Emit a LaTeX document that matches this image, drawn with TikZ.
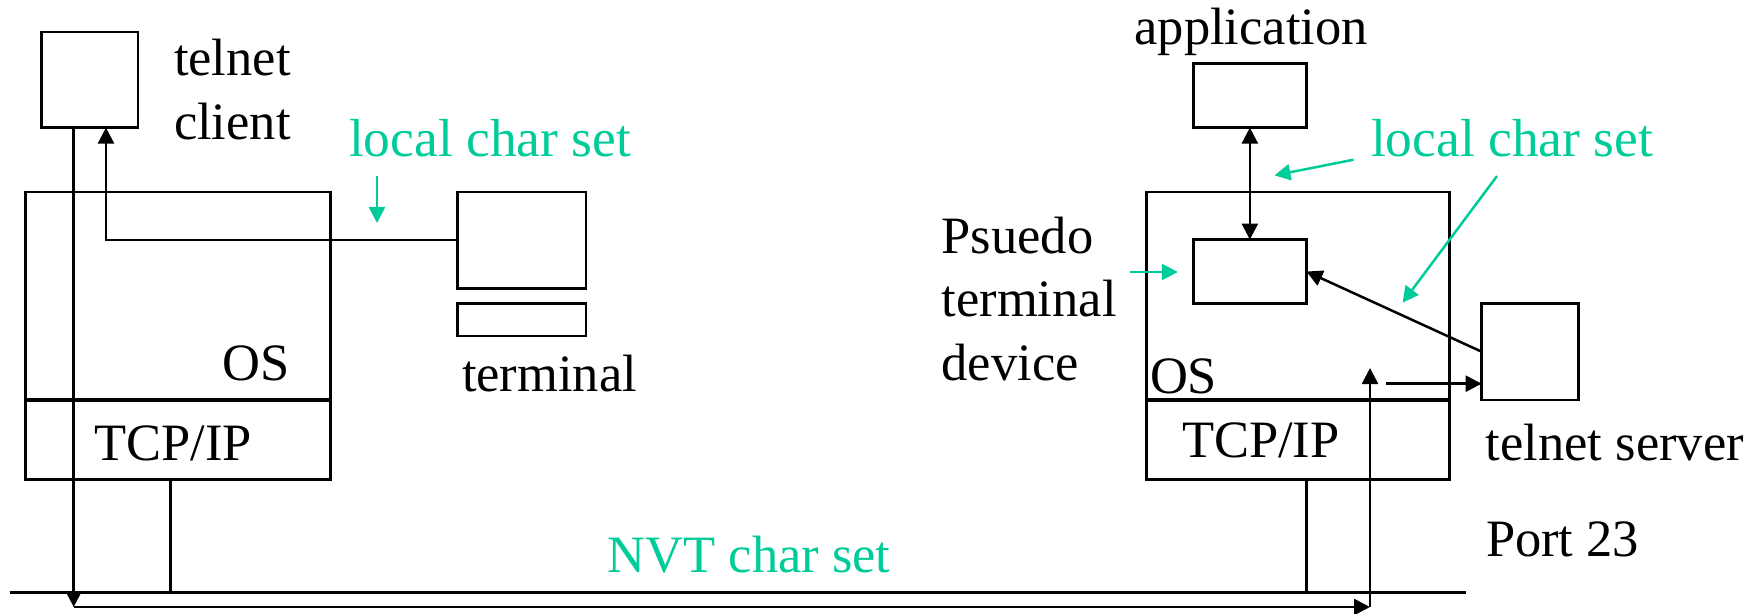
\documentclass[tikz,border=0pt]{standalone}
\usepackage{fontspec}
\setmainfont{Liberation Serif}
\usetikzlibrary{arrows.meta,calc}
\definecolor{nvtgreen}{RGB}{0,204,153}
\begin{document}
\begin{tikzpicture}[x=0.5pt,y=-0.5pt,
  box/.style={draw=black,line width=1.25pt,inner sep=0pt,outer sep=0pt},
  lbl/.style={anchor=base west,inner sep=0pt,outer sep=0pt,font=\fontsize{26.25}{32}\selectfont},
  glbl/.style={lbl,text=nvtgreen,font=\fontsize{26.75}{32}\selectfont},
  conn/.style={line width=1.25pt},
  arr/.style={conn,-{Triangle[length=8pt,width=8pt]}},
  darr/.style={conn,{Triangle[length=8pt,width=8pt]}-{Triangle[length=8pt,width=8pt]}},
  garr/.style={draw=nvtgreen,line width=1.25pt,-{Triangle[length=8pt,width=8pt]}},
  divider/.style={line width=1.6pt},
  wire/.style={line width=1.75pt}]
\useasboundingbox (0,0) rectangle (1759,614);

% boxes
\node[box,minimum width=48.25pt,minimum height=47.8pt] (client) at (89.75,79.8) {};
\node[box,minimum width=152.35pt,minimum height=143.85pt] (leftOS) at (178,335.75) {};
\node[box,minimum width=64.15pt,minimum height=48.35pt] (screen) at (521.85,240.25) {};
\node[box,minimum width=64.15pt,minimum height=16.3pt] (keyb) at (521.85,319.7) {};
\node[box,minimum width=56.55pt,minimum height=32.1pt] (app) at (1249.85,95.5) {};
\node[box,minimum width=151.3pt,minimum height=143.85pt] (rightOS) at (1298,335.75) {};
\node[box,minimum width=56.55pt,minimum height=31.9pt] (pty) at (1249.85,271.5) {};
\node[box,minimum width=48.35pt,minimum height=48.3pt] (server) at (1530,351.7) {};

% dividers
\coordinate (divy) at (0,400);
\draw[divider] (leftOS.west |- divy) -- (leftOS.east |- divy);
\draw[divider] (rightOS.west |- divy) -- (rightOS.east |- divy);

% texts
\node[lbl] (tA) at (174,76) {telnet};
\node[lbl] (tB) at (174,140) {client};
\node[glbl] (lcsL) at (349,156.6) {local char set};
\node[lbl] (osL) at (222.6,380.6) {OS};
\node[lbl] (tcpLt) at (94.5,460) {TCP/IP};
\node[lbl] (term) at (462,391.5) {terminal};
\node[glbl,font=\fontsize{26.25}{32}\selectfont] (nvt) at (607.7,572.7) {NVT char set};
\node[lbl] (appl) at (1134.5,45) {application};
\node[glbl] (lcsR) at (1371,156.6) {local char set};
\node[lbl] (pA) at (941.7,253.3) {Psuedo};
\node[lbl] (pB) at (941.7,316.7) {terminal};
\node[lbl] (pC) at (941.7,380) {device};
\node[lbl] (osR) at (1150,393) {OS};
\node[lbl] (tcpRt) at (1182,457) {TCP/IP};
\node[lbl] (srvl) at (1485.9,460) {telnet server};
\node[lbl] (port) at (1486,556) {Port 23};

% network wire
\coordinate (nvtA) at (9.6,592.5);
\coordinate (nvtB) at (1465.7,592.5);
\draw[wire] (nvtA) -- (nvtB);
\coordinate (tcpL) at (170.5,592.5);
\coordinate (tcpR) at (1306.4,592.5);
\draw[conn] (leftOS.south -| tcpL) -- (tcpL);
\draw[conn] (rightOS.south -| tcpR) -- (tcpR);

% data path
\coordinate (bl) at (73.7,607);
\coordinate (br) at (1370,607);
\coordinate (upTip) at (1370,368);
\draw[arr] (client.south -| bl) -- (bl);
\draw[arr] (bl) -- (br);
\draw[arr] (br) -- (upTip);
\coordinate (srvFrom) at (1386,383.7);
\draw[arr] (srvFrom) -- (srvFrom -| server.west);

% terminal to client
\coordinate (clientIn) at (106,127.6);
\draw[arr] (screen.west) -| (clientIn);

% server side
\draw[darr] (app.south) -- (pty.north);
\draw[arr] (server.west) -- (pty.east);

% green pointers
\coordinate (g1a) at (377,176);
\coordinate (g1b) at (377,223);
\draw[garr] (g1a) -- (g1b);
\coordinate (g2a) at (1353.5,159.7);
\coordinate (g2b) at (1274.4,175.4);
\draw[garr] (g2a) -- (g2b);
\coordinate (g3a) at (1497,176);
\coordinate (g3b) at (1402.6,302.7);
\draw[garr] (g3a) -- (g3b);
\coordinate (g4a) at (1130,272);
\coordinate (g4b) at (1177.8,272);
\draw[garr] (g4a) -- (g4b);
\end{tikzpicture}
\end{document}
